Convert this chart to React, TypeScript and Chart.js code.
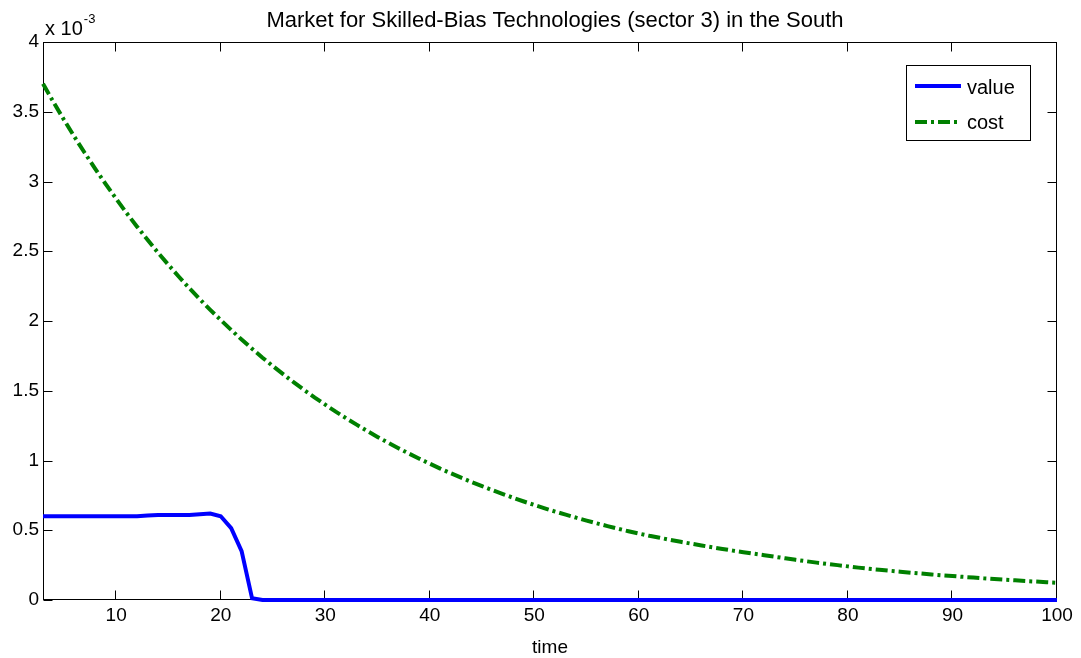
import { useEffect, useRef } from "react";
import { Chart, registerables } from "chart.js";

Chart.register(...registerables);

const timeSteps = [
  3, 4, 5, 6, 7, 8, 9, 10, 11, 12, 13, 14, 15, 16, 17, 18, 19, 20, 21, 22,
  23, 24, 25, 26, 27, 28, 29, 30, 31, 32, 33, 34, 35, 36, 37, 38, 39, 40, 41, 42,
  43, 44, 45, 46, 47, 48, 49, 50, 51, 52, 53, 54, 55, 56, 57, 58, 59, 60, 61, 62,
  63, 64, 65, 66, 67, 68, 69, 70, 71, 72, 73, 74, 75, 76, 77, 78, 79, 80, 81, 82,
  83, 84, 85, 86, 87, 88, 89, 90, 91, 92, 93, 94, 95, 96, 97, 98, 99, 100,
];

// values in units of 10^-3
const valueSeries = [
  0.6, 0.6, 0.6, 0.6, 0.6, 0.6, 0.6, 0.6, 0.6, 0.6,
  0.605, 0.61, 0.61, 0.61, 0.61, 0.615, 0.62, 0.6, 0.515, 0.35, 0.012,
  0, 0, 0, 0, 0, 0, 0, 0, 0, 0, 0, 0, 0, 0, 0, 0, 0, 0, 0, 0,
  0, 0, 0, 0, 0, 0, 0, 0, 0, 0, 0, 0, 0, 0, 0, 0, 0, 0, 0, 0,
  0, 0, 0, 0, 0, 0, 0, 0, 0, 0, 0, 0, 0, 0, 0, 0, 0, 0, 0, 0,
  0, 0, 0, 0, 0, 0, 0, 0, 0, 0, 0, 0, 0, 0, 0, 0, 0,
];

const costSeries = [
  3.7, 3.569, 3.443, 3.321, 3.204, 3.091, 2.981, 2.876, 2.774, 2.676,
  2.582, 2.49, 2.402, 2.317, 2.235, 2.156, 2.08, 2.007, 1.936, 1.867,
  1.801, 1.737, 1.676, 1.617, 1.56, 1.505, 1.451, 1.4, 1.35, 1.303,
  1.257, 1.212, 1.169, 1.128, 1.088, 1.05, 1.013, 0.977, 0.942, 0.909,
  0.877, 0.846, 0.816, 0.787, 0.759, 0.732, 0.706, 0.681, 0.657, 0.634,
  0.612, 0.59, 0.569, 0.549, 0.53, 0.511, 0.493, 0.476, 0.46, 0.446,
  0.431, 0.417, 0.404, 0.391, 0.378, 0.366, 0.354, 0.343, 0.332, 0.321,
  0.31, 0.299, 0.288, 0.278, 0.268, 0.259, 0.25, 0.241, 0.232, 0.224,
  0.217, 0.21, 0.203, 0.196, 0.19, 0.183, 0.177, 0.172, 0.166, 0.161,
  0.155, 0.15, 0.145, 0.141, 0.136, 0.132, 0.127, 0.123,
];

const xTickValues = [10, 20, 30, 40, 50, 60, 70, 80, 90, 100];
const yTickValues = [0, 0.5, 1, 1.5, 2, 2.5, 3, 3.5, 4];
const seriesLabels = ["value", "cost"];
const seriesColors = ["#0000ff", "#008000"];
const chartTitle = "Market for Skilled-Bias Technologies (sector 3) in the South";
const xAxisTitle = "time";
const yExponentBase = "x 10";
const yExponent = "-3";

const FONT = '"Liberation Sans", Arial, Helvetica, sans-serif';
const COST_DASH = [12, 4, 3, 4];

export default function App() {
  const ref = useRef<HTMLCanvasElement>(null);

  useEffect(() => {
    document.body.style.margin = "0";
    const canvas = ref.current;
    if (!canvas) return;

    const framePlugin = {
      id: "matlabFrame",
      beforeDatasetsDraw(chart: any) {
        const { ctx, chartArea: a, scales } = chart;
        ctx.save();
        ctx.strokeStyle = "#000";
        ctx.lineWidth = 1;
        const L = Math.round(a.left) + 0.5;
        const R = Math.round(a.right) - 0.5;
        const T = Math.round(a.top) + 0.5;
        const B = Math.round(a.bottom) - 0.5;
        ctx.strokeRect(L, T, R - L, B - T);
        const tl = 9;
        ctx.beginPath();
        xTickValues.forEach((v) => {
          const px = Math.round(scales.x.getPixelForValue(v)) - 0.5;
          ctx.moveTo(px, B);
          ctx.lineTo(px, B - tl);
          ctx.moveTo(px, T);
          ctx.lineTo(px, T + tl);
        });
        yTickValues.forEach((v) => {
          const py = Math.round(scales.y.getPixelForValue(v)) + 0.5;
          ctx.moveTo(L, py);
          ctx.lineTo(L + tl, py);
          ctx.moveTo(R, py);
          ctx.lineTo(R - tl, py);
        });
        ctx.stroke();
        ctx.restore();
      },
      afterDraw(chart: any) {
        const { ctx, chartArea: a } = chart;
        ctx.save();
        ctx.fillStyle = "#000";
        ctx.textBaseline = "alphabetic";
        // title
        ctx.font = `22px ${FONT}`;
        ctx.textAlign = "center";
        ctx.fillText(chartTitle, (a.left + a.right) / 2 + 5, 27);
        // x title
        ctx.font = `19px ${FONT}`;
        ctx.fillText(xAxisTitle, (a.left + a.right) / 2, 653);
        // exponent
        ctx.font = `20px ${FONT}`;
        ctx.textAlign = "left";
        ctx.fillText(yExponentBase, 45, 35);
        const w = ctx.measureText(yExponentBase).width;
        ctx.font = `13px ${FONT}`;
        ctx.fillText(yExponent, 45 + w + 1, 23);

        // legend
        const bx = 906, by = 65, bw = 124, bh = 75;
        ctx.fillStyle = "#fff";
        ctx.fillRect(bx, by, bw, bh);
        ctx.strokeStyle = "#000";
        ctx.lineWidth = 1;
        ctx.strokeRect(bx + 0.5, by + 0.5, bw, bh);
        const rows = [
          { y: 86, textY: 94 },
          { y: 122, textY: 129 },
        ];
        chart.data.datasets.forEach((ds: any, i: number) => {
          ctx.save();
          ctx.strokeStyle = ds.borderColor;
          ctx.lineWidth = 4;
          ctx.lineCap = "butt";
          ctx.setLineDash(ds.borderDash || []);
          ctx.beginPath();
          ctx.moveTo(915, rows[i].y);
          ctx.lineTo(961, rows[i].y);
          ctx.stroke();
          ctx.restore();
          ctx.fillStyle = "#000";
          ctx.font = `20px ${FONT}`;
          ctx.textAlign = "left";
          ctx.fillText(ds.label, 967, rows[i].textY);
        });
        ctx.restore();
      },
    };

    const chart = new Chart(canvas, {
      type: "line",
      data: {
        datasets: [
          {
            label: seriesLabels[0],
            data: timeSteps.map((t, i) => ({ x: t, y: valueSeries[i] })),
            borderColor: seriesColors[0],
            backgroundColor: seriesColors[0],
            borderWidth: 4,
            pointRadius: 0,
            tension: 0,
            clip: 6,
          },
          {
            label: seriesLabels[1],
            data: timeSteps.map((t, i) => ({ x: t, y: costSeries[i] })),
            borderColor: seriesColors[1],
            backgroundColor: seriesColors[1],
            borderWidth: 4,
            borderDash: COST_DASH,
            borderCapStyle: "butt",
            pointRadius: 0,
            tension: 0,
            clip: 6,
          },
        ],
      },
      options: {
        responsive: false,
        animation: false,
        devicePixelRatio: 1,
        layout: { padding: { top: 42, right: 24, bottom: 0, left: 0 } },
        plugins: {
          legend: { display: false },
          title: { display: false },
          tooltip: { enabled: false },
        },
        scales: {
          x: {
            type: "linear",
            min: 3,
            max: 100,
            grid: { display: false, drawTicks: false },
            border: { display: false },
            ticks: {
              color: "#000",
              font: { family: FONT, size: 19 },
              padding: 4,
              autoSkip: false,
              maxRotation: 0,
              callback: (v: any) => String(v),
            },
            afterBuildTicks: (scale: any) => {
              scale.ticks = xTickValues.map((v) => ({ value: v }));
            },
            afterFit: (scale: any) => {
              scale.height = 58;
            },
          },
          y: {
            type: "linear",
            min: 0,
            max: 4,
            grid: { display: false, drawTicks: false },
            border: { display: false },
            ticks: {
              color: "#000",
              font: { family: FONT, size: 19 },
              padding: 4,
              autoSkip: false,
              callback: (v: any) => String(v),
            },
            afterBuildTicks: (scale: any) => {
              scale.ticks = yTickValues.map((v) => ({ value: v }));
            },
            afterFit: (scale: any) => {
              scale.width = 43;
            },
          },
        },
      },
      plugins: [framePlugin],
    } as any);

    return () => chart.destroy();
  }, []);

  return (
    <div style={{ width: 1081, height: 658, background: "#fff" }}>
      <canvas ref={ref} width={1081} height={658} style={{ display: "block" }} />
    </div>
  );
}
